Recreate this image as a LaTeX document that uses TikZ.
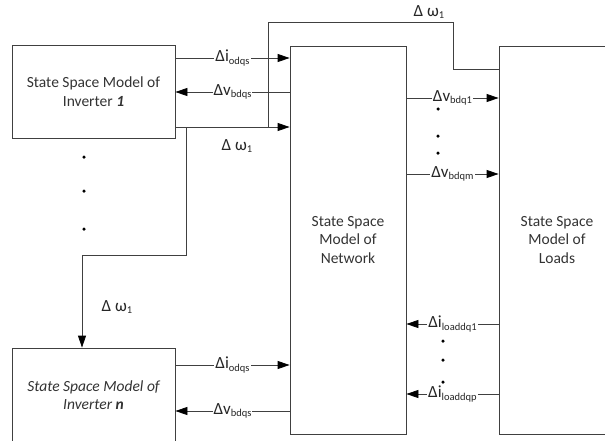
\documentclass[tikz,border=0pt]{standalone}
\usepackage{fontspec}
\setmainfont{Carlito}
\usetikzlibrary{arrows.meta,positioning,calc}
\newcommand{\lsub}[1]{\raisebox{-0.25ex}{\fontsize{10.5}{12}\selectfont #1}}

\begin{document}
\begin{tikzpicture}[
x=1pt, y=-1pt,
box/.style={draw=black!75, line width=0.8pt, align=center, font=\fontsize{15.5}{18.5}\selectfont, text=black!80},
ln/.style={draw=black!75, line width=0.8pt},
arr/.style={ln, -{Triangle[length=12pt,width=8pt,color=black]}},
lbl/.style={fill=white, inner sep=1pt, font=\fontsize{17}{18}\selectfont, text=black!85},
dot/.style={circle, fill=black, inner sep=0pt, minimum size=3.5pt}
]
\useasboundingbox (0,0) rectangle (605,440);
\clip (0,0) rectangle (605,440);

\node[box, minimum width=163pt, minimum height=93pt] (inv1) at (93.5,91.5) {State Space Model of\\Inverter \textbf{\textit{1}}};
\node[box, minimum width=163pt, minimum height=94pt] (invn) at (93.5,395) {\itshape State Space Model of\\\itshape Inverter \textbf{n}};
\node[box, minimum width=116pt, minimum height=388pt] (net) at (348,240) {State Space\\Model of\\Network};
\node[box, minimum width=116pt, minimum height=388pt] (loads) at (557,240) {State Space\\Model of\\Loads};

% inverter 1 <-> network
\draw[arr] (inv1.east |- 0,58) -- node[lbl]{Δi\lsub{odqs}} (net.west |- 0,58);
\draw[arr] (net.west |- 0,92) -- node[lbl]{Δv\lsub{bdqs}} (inv1.east |- 0,92);
\draw[arr] (inv1.east |- 0,127) -- (net.west |- 0,127);

% frequency feedback
\coordinate (tapA) at (268,127);
\coordinate (tapB) at (186,127);
\coordinate (topL) at (268,22);
\coordinate (topR) at (453,69);
\coordinate (bendB) at (82,255);
\draw[ln] (tapA) -- (topL) -| (topR) -- (loads.west |- topR);
\draw[arr] (tapB) |- (bendB) -- (bendB |- invn.north);
\node[lbl, fill=none] (w1) at (429,12) {Δ ω\lsub{1}};
\node[lbl, fill=none] (w2) at (237,146) {Δ ω\lsub{1}};
\node[lbl, fill=none] (w3) at (117,307) {Δ ω\lsub{1}};

% inverter n <-> network
\draw[arr] (invn.east |- 0,365) -- node[lbl]{Δi\lsub{odqs}} (net.west |- 0,365);
\draw[arr] (net.west |- 0,411) -- node[lbl]{Δv\lsub{bdqs}} (invn.east |- 0,411);

% network <-> loads
\draw[arr] (net.east |- 0,98) -- node[lbl]{Δv\lsub{bdq1}} (loads.west |- 0,98);
\draw[arr] (net.east |- 0,174) -- node[lbl]{Δv\lsub{bdqm}} (loads.west |- 0,174);
\draw[arr] (loads.west |- 0,324) -- node[lbl]{Δi\lsub{loaddq1}} (net.east |- 0,324);
\draw[arr] (loads.west |- 0,394) -- node[lbl]{Δi\lsub{loaddqp}} (net.east |- 0,394);

% dots
\foreach \y [count=\i] in {157,191,229} \node[dot] (d\i) at (84,\y) {};
\foreach \y [count=\i] in {109,136,153} \node[dot] (e\i) at (438,\y) {};
\foreach \y [count=\i] in {341,360,382} \node[dot] (f\i) at (443,\y) {};
\end{tikzpicture}
\end{document}
